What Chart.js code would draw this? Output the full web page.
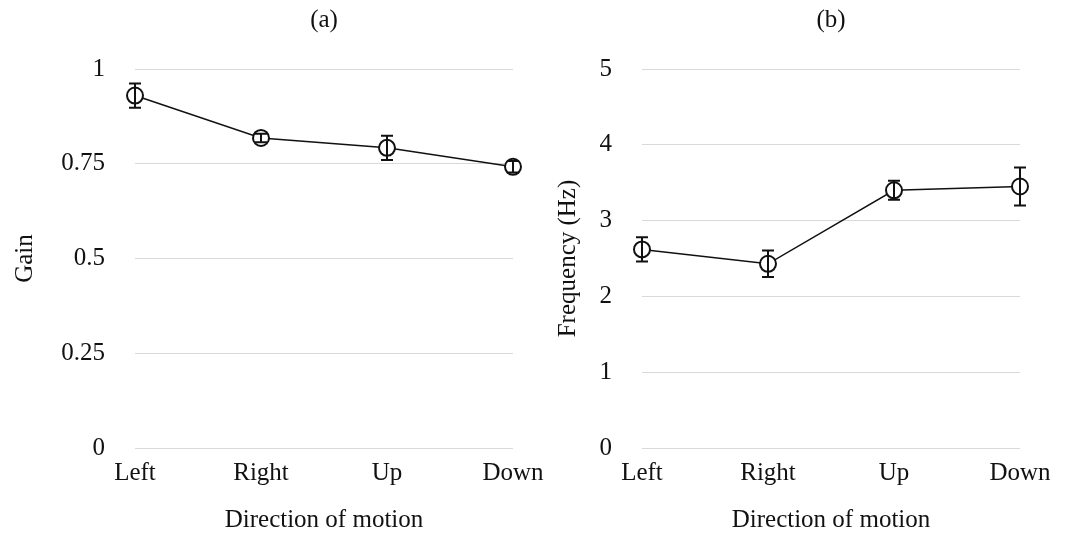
<!DOCTYPE html>
<html>
<head>
<meta charset="utf-8">
<script src="https://cdn.jsdelivr.net/npm/chart.js@4.4.1/dist/chart.umd.min.js"></script>
<style>
  html, body { margin: 0; padding: 0; background: #fff; }
  #wrap { position: relative; width: 1067px; height: 539px; overflow: hidden; }
  .panel { position: absolute; top: 0; height: 539px; }
  #pa { left: 0; width: 560px; }
  #pb { left: 533px; width: 534px; }
</style>
</head>
<body>
<div id="wrap">
  <div class="panel" id="pa"><canvas id="chartA"></canvas></div>
  <div class="panel" id="pb"><canvas id="chartB"></canvas></div>
</div>
<script>
// Directions tested
const directions = ['Left', 'Right', 'Up', 'Down'];

// Panel (a): gain, mean and error
const gainMean = [0.93, 0.818, 0.792, 0.742];
const gainErr  = [0.032, 0.011, 0.032, 0.015];
const gainTicks = ['0', '0.25', '0.5', '0.75', '1'];

// Panel (b): frequency in Hz, mean and error
const freqMean = [2.62, 2.43, 3.40, 3.45];
const freqErr  = [0.16, 0.175, 0.125, 0.25];
const freqTicks = ['0', '1', '2', '3', '4', '5'];

const FONT = '"Liberation Serif", "Times New Roman", serif';
const INK = '#111';

// Vertical error bars with caps, drawn through each marker
const errorBars = {
  id: 'errorBars',
  afterDatasetsDraw(chart, args, opts) {
    const ctx = chart.ctx;
    const x = chart.scales.x, y = chart.scales.y;
    const means = opts.means, errs = opts.errs;
    ctx.save();
    ctx.strokeStyle = INK;
    ctx.lineWidth = 2;
    means.forEach((m, i) => {
      const px = x.getPixelForValue(i);
      const top = y.getPixelForValue(m + errs[i]);
      const bot = y.getPixelForValue(m - errs[i]);
      ctx.beginPath();
      ctx.moveTo(px, top); ctx.lineTo(px, bot);
      ctx.moveTo(px - 6, top); ctx.lineTo(px + 6, top);
      ctx.moveTo(px - 6, bot); ctx.lineTo(px + 6, bot);
      ctx.stroke();
    });
    ctx.restore();
  }
};

// Panel caption centred over the plot area
const panelCaption = {
  id: 'panelCaption',
  afterDraw(chart, args, opts) {
    const ctx = chart.ctx;
    const ca = chart.chartArea;
    ctx.save();
    ctx.fillStyle = INK;
    ctx.font = '25px ' + FONT;
    ctx.textAlign = 'center';
    ctx.textBaseline = 'middle';
    ctx.fillText(opts.text, (ca.left + ca.right) / 2, 20);
    ctx.restore();
  }
};

function makeChart(id, cfg) {
  return new Chart(document.getElementById(id), {
    type: 'line',
    data: {
      labels: directions,
      datasets: [{
        data: cfg.means,
        borderColor: INK,
        borderWidth: 1.5,
        pointRadius: 8,
        pointHoverRadius: 8,
        pointBorderWidth: 2,
        pointBorderColor: INK,
        pointBackgroundColor: '#fff',
        tension: 0,
        clip: false
      }]
    },
    options: {
      responsive: true,
      maintainAspectRatio: false,
      animation: false,
      events: [],
      layout: { padding: { top: 69, right: cfg.padRight, left: 0, bottom: 0 } },
      plugins: {
        legend: { display: false },
        tooltip: { enabled: false },
        errorBars: { means: cfg.means, errs: cfg.errs },
        panelCaption: { text: cfg.caption }
      },
      scales: {
        x: {
          type: 'category',
          offset: false,
          grid: { display: false, drawTicks: false },
          border: { display: false },
          ticks: { color: INK, font: { family: FONT, size: 25 }, padding: 10, maxRotation: 0 },
          title: {
            display: true, text: 'Direction of motion', color: INK,
            font: { family: FONT, size: 25 }, padding: { top: 0, bottom: 4 }
          },
          afterFit(scale) { scale.height = 91; }
        },
        y: {
          min: 0, max: cfg.max,
          grid: { color: '#d9d9d9', lineWidth: 1, drawTicks: false },
          border: { display: false },
          ticks: {
            stepSize: cfg.step, color: INK, padding: cfg.tickPad,
            font: { family: FONT, size: 25 },
            callback: (v, i) => cfg.ticks[i]
          },
          title: {
            display: true, text: cfg.yTitle, color: INK,
            font: { family: FONT, size: 25 }, padding: { top: cfg.titlePad, bottom: 0 }
          },
          afterFit(scale) { scale.width = cfg.yWidth; }
        }
      }
    },
    plugins: [errorBars, panelCaption]
  });
}

makeChart('chartA', {
  means: gainMean, errs: gainErr, caption: '(a)', yTitle: 'Gain',
  max: 1, step: 0.25, ticks: gainTicks,
  yWidth: 135, tickPad: 30, titlePad: 10, padRight: 47
});

makeChart('chartB', {
  means: freqMean, errs: freqErr, caption: '(b)', yTitle: 'Frequency (Hz)',
  max: 5, step: 1, ticks: freqTicks,
  yWidth: 109, tickPad: 30, titlePad: 20, padRight: 47
});
</script>
</body>
</html>
